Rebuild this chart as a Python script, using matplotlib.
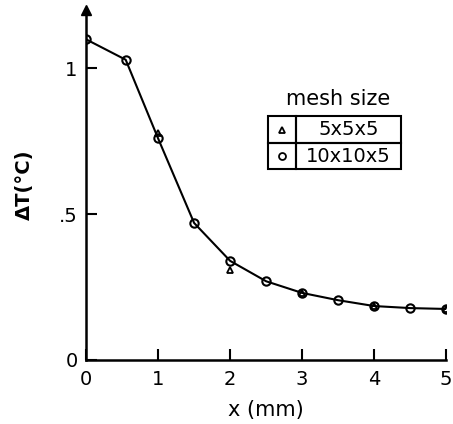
import matplotlib
matplotlib.use("Agg")
import matplotlib.pyplot as plt
import matplotlib.patches as patches

# data
xFine = [0, 0.55, 1, 1.5, 2, 2.5, 3, 3.5, 4, 4.5, 5]
dtFine = [1.10, 1.03, 0.76, 0.47, 0.34, 0.27, 0.23, 0.205, 0.185, 0.178, 0.175]
xCoarse = [1, 2, 3, 4, 5]
dtCoarse = [0.78, 0.31, 0.23, 0.185, 0.175]
meshLabels = ["5x5x5", "10x10x5"]
xTicks = [0, 1, 2, 3, 4, 5]
yTicks = [0, 0.5, 1]
yTickLabels = ["0", ".5", "1"]

plt.rcParams['font.family'] = ['DejaVu Sans']

fig = plt.figure(figsize=(4.53, 4.24), dpi=100)
ax = fig.add_axes([0.19, 0.151, 0.795, 0.825])

#Curves
ax.plot(xFine, dtFine, color='k', lw=1.5, zorder=2)
ax.plot(xCoarse, dtCoarse, ls='none', marker='^', ms=5, mfc='none', mec='k', mew=1.3, zorder=3)
ax.plot(xFine, dtFine, ls='none', marker='o', ms=6, mfc='none', mec='k', mew=1.5, zorder=4)

#Axes styling
ax.set_xlim(0, 5)
ax.set_ylim(0, 1.2)
for side in ['top', 'right']:
    ax.spines[side].set_visible(False)
for side in ['left', 'bottom']:
    ax.spines[side].set_linewidth(1.8)
ax.set_xticks(xTicks)
ax.set_xticklabels([str(t) for t in xTicks])
ax.set_yticks(yTicks)
ax.set_yticklabels(yTickLabels)
ax.tick_params(direction='in', length=8, width=1.5, labelsize=14)
ax.tick_params(axis='x', pad=7)
ax.tick_params(axis='y', pad=6)
ax.set_xlabel("x (mm)", fontsize=15, labelpad=8)
ax.set_ylabel("ΔT(°C)", fontsize=14, fontweight='bold', labelpad=18)

#Arrow at top of y axis
ax.plot(0, 1, marker='^', ms=7, color='k', transform=ax.transAxes, clip_on=False)

#Legend table
left, mid, right = 0.506, 0.583, 0.875
rows = [0.697, 0.62, 0.546]
ax.text((left + right) / 2 + 0.01, 0.745, "mesh size", transform=ax.transAxes,
        ha='center', va='center', fontsize=15)
markers = ['^', 'o']
for i, label in enumerate(meshLabels):
    top, bot = rows[i], rows[i + 1]
    ax.add_patch(patches.Rectangle((left, bot), mid - left, top - bot, transform=ax.transAxes,
                                   fill=False, lw=1.5, ec='k'))
    ax.add_patch(patches.Rectangle((mid, bot), right - mid, top - bot, transform=ax.transAxes,
                                   fill=False, lw=1.5, ec='k'))
    ax.plot((left + mid) / 2, (top + bot) / 2, marker=markers[i], ms=5, mfc='none', mec='k',
            mew=1.3, transform=ax.transAxes, clip_on=False)
    ax.text((mid + right) / 2, (top + bot) / 2, label, transform=ax.transAxes,
            ha='center', va='center', fontsize=14)

fig.savefig("out.png", dpi=100)
